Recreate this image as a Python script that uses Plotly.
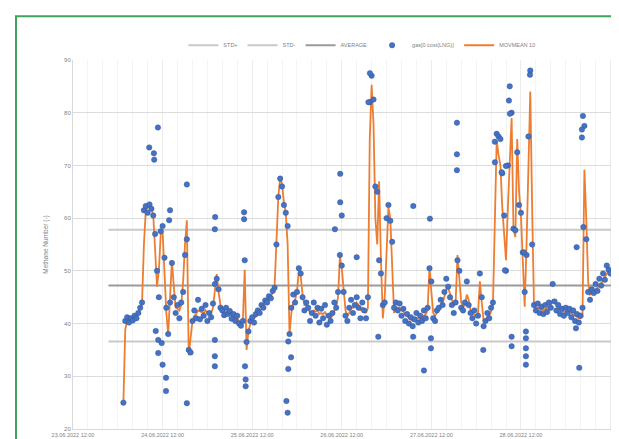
import pandas as pd
import plotly.graph_objects as go

# ---------------- data ----------------
start_time = "2022-06-24 01:30"   # first sample, 30 min spacing
gas_values = [
    25.0,
    40.5, 41.2, 40.2, 41.0, 40.6, 41.5, 41.0,
    42.0, 43.0, 44.0,
    61.5, 62.3, 61.0, 62.6, 61.8, 60.5,
    57.0, 50.0, 45.0, 57.5, 58.5, 52.5, 43.0, 38.0, 44.0, 51.5,
    45.0, 42.0, 43.5, 41.0, 44.0, 46.0, 53.0, 56.0, 35.0, 34.5,
    40.5, 42.5, 41.0, 44.5, 40.8, 42.8, 41.5, 43.5, 40.5, 42.0, 41.2, 43.8,
    47.5, 48.5, 46.5, 43.0,
    42.5, 41.6, 43.0, 41.8, 42.4, 40.9, 41.8, 40.5, 41.5, 40.0, 39.6, 40.5,
    52.0, 36.5, 38.5,
    40.5, 41.2, 40.2, 41.8, 42.5, 42.0, 43.5, 43.0, 44.4, 44.0, 45.2, 44.8, 46.2, 46.8,
    55.0, 64.0, 67.5, 66.0, 62.5, 61.0, 58.5,
    38.0, 43.0, 45.5, 44.0, 46.0, 50.5, 49.5, 45.0, 42.5, 44.0,
    43.0, 40.5, 42.0, 44.0, 41.5, 43.0, 40.2, 42.8, 41.0, 43.5, 39.8, 41.5, 40.5, 42.0,
    44.0, 43.0, 46.0, 53.0, 51.0, 46.0, 41.5, 40.5, 43.0, 44.5, 42.0, 43.5, 45.0,
    43.0, 41.0, 44.0, 42.5, 41.0, 45.0,
    82.0, 87.0, 82.5,
    66.0, 65.0, 52.0, 49.5, 43.5,
    44.0, 60.0, 62.5, 59.5, 55.5, 43.0,
    44.0, 42.5, 43.8, 41.5, 42.8, 40.5, 41.8, 40.0, 41.2, 39.5, 40.8, 42.0, 40.2, 41.5,
    40.5, 42.5, 41.0, 43.0,
    50.5, 48.0,
    41.0, 40.5, 42.5, 43.0, 44.5, 43.5, 46.0, 48.5, 47.0, 45.0, 43.5, 42.0, 44.0, 52.0, 50.0,
    43.0, 42.5, 44.0, 48.0, 43.5,
    42.0, 41.0, 42.5, 40.0, 41.5, 49.5, 45.0, 39.5, 40.5, 42.0, 41.0, 43.0, 44.0,
    74.5, 76.0, 75.5, 75.0, 68.5, 60.5, 50.0, 70.0, 85.0, 80.0, 58.0, 57.7, 72.5, 62.5,
    61.0, 53.5, 46.0, 53.0, 75.5, 88.0, 55.0,
    43.5, 42.5, 43.8, 42.0, 43.2, 41.8, 43.5, 42.2, 44.0, 43.0, 47.5, 44.2, 42.5, 43.5,
    41.8, 42.8, 41.5, 43.0, 42.0, 42.8, 41.2, 42.5, 40.5, 41.8, 40.2, 41.5, 43.0,
    77.5, 56.0,
    46.0, 44.5, 46.5, 45.8, 47.5, 46.2, 48.5, 47.2, 49.5, 48.3, 51.0, 50.2, 49.5,
]

movmean_values = [
    25.0,
    38.9, 40.5, 40.8, 40.9, 41.0, 41.2, 41.3,
    42.0, 43.0, 44.0,
    55.0, 61.5, 62.0, 62.2, 61.8, 60.5,
    54.0, 47.0, 50.0, 57.0, 57.5, 50.0, 42.0, 38.0, 45.0, 52.0,
    47.0, 43.0, 42.8, 42.5, 43.5, 48.0, 55.0, 59.6, 34.0, 37.0,
    40.5, 41.5, 41.8, 42.5, 42.3, 42.2, 42.0, 42.5, 42.0, 42.0, 42.0, 43.0,
    47.0, 49.4, 46.0, 43.5,
    42.5, 42.0, 42.3, 42.2, 42.0, 41.5, 41.5, 41.0, 41.0, 40.5, 40.0, 40.5,
    50.2, 35.0, 38.5,
    40.0, 40.6, 41.0, 41.3, 42.0, 42.4, 42.8, 43.3, 43.8, 44.3, 44.8, 45.2, 45.8, 47.0,
    56.0, 64.0, 67.7, 66.5, 63.0, 61.0, 55.0,
    38.0, 42.0, 44.0, 44.5, 46.0, 50.0, 49.0, 45.5, 43.5, 43.5,
    43.0, 42.0, 42.0, 42.5, 42.3, 42.5, 41.8, 42.0, 41.8, 42.2, 41.5, 41.2, 41.0, 41.5,
    42.5, 43.2, 45.0, 52.6, 50.5, 46.0, 42.5, 41.5, 42.0, 43.0, 43.0, 43.3, 44.0,
    43.5, 42.5, 43.0, 42.8, 42.0, 43.0,
    75.0, 85.3, 78.0,
    60.0, 55.0, 67.0, 52.0, 41.0,
    45.0, 55.0, 62.0, 60.0, 52.0, 42.0,
    43.0, 43.0, 43.0, 42.5, 42.3, 41.8, 41.5, 41.0, 40.8, 40.5, 40.5, 41.0, 41.0, 41.0,
    41.0, 41.5, 41.8, 42.5,
    50.8, 46.0,
    42.0, 41.5, 42.0, 42.5, 43.2, 43.8, 45.0, 46.5, 46.8, 45.5, 44.5, 43.5, 44.0, 53.0, 48.0,
    44.0, 43.2, 43.5, 45.5, 44.5,
    42.5, 41.8, 41.8, 41.2, 42.0, 48.0, 44.0, 40.5, 40.5, 41.3, 41.5, 42.3, 43.5,
    60.0, 74.7, 72.0, 70.0, 62.0, 57.0, 52.0, 62.0, 72.0, 79.0, 58.0, 56.4, 75.0, 65.0,
    60.5, 52.0, 43.2, 55.0, 72.0, 84.0, 62.0,
    43.2, 43.0, 43.0, 42.8, 42.7, 42.5, 42.8, 42.8, 43.2, 43.5, 44.5, 44.5, 43.5, 43.0,
    42.5, 42.5, 42.2, 42.3, 42.3, 42.3, 42.0, 41.8, 41.5, 41.3, 41.0, 41.0, 42.0,
    69.2, 60.0,
    48.0, 45.5, 45.8, 46.0, 46.5, 46.8, 47.3, 47.6, 48.3, 48.8, 49.5, 50.0, 50.0,
]

# scattered single readings (outliers)
outlier_times = [
    "2022-06-24 08:25", "2022-06-24 09:40", "2022-06-24 09:45", "2022-06-24 10:45",
    "2022-06-24 10:10", "2022-06-24 10:50", "2022-06-24 11:45", "2022-06-24 10:50",
    "2022-06-24 12:00", "2022-06-24 12:55", "2022-06-24 12:55", "2022-06-24 13:45",
    "2022-06-24 14:00", "2022-06-24 18:30", "2022-06-24 18:30",
    "2022-06-25 02:00", "2022-06-25 02:00", "2022-06-25 02:00", "2022-06-25 02:00",
    "2022-06-25 02:05",
    "2022-06-25 09:50", "2022-06-25 09:50", "2022-06-25 10:05", "2022-06-25 10:15",
    "2022-06-25 10:15",
    "2022-06-25 21:40", "2022-06-25 22:25", "2022-06-25 21:40", "2022-06-25 21:10",
    "2022-06-25 21:30",
    "2022-06-26 10:10", "2022-06-26 11:35", "2022-06-26 11:35", "2022-06-26 12:00",
    "2022-06-26 16:00",
    "2022-06-26 19:33", "2022-06-26 19:09", "2022-06-26 21:47",
    "2022-06-27 07:09", "2022-06-27 07:07", "2022-06-27 10:01", "2022-06-27 11:37",
    "2022-06-27 11:53", "2022-06-27 11:53",
    "2022-06-27 18:51", "2022-06-27 18:51", "2022-06-27 18:51",
    "2022-06-28 01:54", "2022-06-28 05:02", "2022-06-28 06:49", "2022-06-28 07:43",
    "2022-06-28 07:59", "2022-06-28 08:47", "2022-06-28 09:03", "2022-06-28 09:30",
    "2022-06-28 09:30", "2022-06-28 12:48",
    "2022-06-28 13:20", "2022-06-28 13:20", "2022-06-28 13:20", "2022-06-28 13:20",
    "2022-06-28 13:20", "2022-06-28 14:25",
    "2022-06-29 02:44", "2022-06-29 02:55", "2022-06-29 03:37",
    "2022-06-29 04:36", "2022-06-29 04:20", "2022-06-29 04:20", "2022-06-29 04:44",
]
outlier_values = [
    73.4, 72.3, 71.1, 77.2,
    38.6, 36.9, 36.3, 34.4,
    32.2, 29.7, 27.2, 59.6,
    61.5, 66.4, 24.9,
    36.9, 33.8, 31.9, 57.9,
    60.2,
    61.1, 59.8, 31.9, 29.4,
    28.1,
    36.6, 33.6, 31.4, 25.3,
    23.1,
    57.9, 68.4, 63.0, 60.5,
    52.6,
    87.5, 82.0, 37.5,
    62.3, 37.5, 31.1, 59.9,
    37.2, 35.3,
    78.1, 72.1, 69.1,
    35.0, 70.6, 68.7, 50.1,
    69.9, 82.3, 79.8, 37.5,
    35.7, 53.5,
    38.5, 37.2, 35.3, 33.8,
    32.2, 87.2,
    39.1, 54.5, 31.6,
    79.4, 76.8, 75.3, 58.3,
]

# horizontal reference levels
average_level = 47.2
std_plus_level = 57.8
std_minus_level = 36.6
ref_line_span = ["2022-06-23 21:30", "2022-06-29 14:00"]

y_ticks = [20, 30, 40, 50, 60, 70, 80, 90]
x_tick_start = "2022-06-23 12:00"
x_range = ["2022-06-23 12:00", "2022-06-29 14:00"]

# ---------------- figure ----------------
sample_times = pd.date_range(start_time, periods=len(gas_values), freq="30min")
ma_times = pd.date_range(start_time, periods=len(movmean_values), freq="30min")

all_times = list(sample_times) + list(pd.to_datetime(outlier_times))
all_values = gas_values + outlier_values

font_family = "Liberation Sans, Arial, sans-serif"
grey_text = "#7f7f7f"

fig = go.Figure()

fig.add_trace(go.Scatter(
    x=ref_line_span, y=[std_plus_level] * 2, mode="lines", name="STD+",
    line=dict(color="#c9c9c9", width=2), legendrank=1))
fig.add_trace(go.Scatter(
    x=ref_line_span, y=[std_minus_level] * 2, mode="lines", name="STD-",
    line=dict(color="#c9c9c9", width=2), legendrank=2))
fig.add_trace(go.Scatter(
    x=ref_line_span, y=[average_level] * 2, mode="lines", name="AVERAGE",
    line=dict(color="#9a9a9a", width=2), legendrank=3))
fig.add_trace(go.Scatter(
    x=ma_times, y=movmean_values, mode="lines", name="MOVMEAN 10",
    line=dict(color="#ED7D31", width=1.8), legendrank=5))
fig.add_trace(go.Scatter(
    x=all_times, y=all_values, mode="markers", name="gas[0 cost(LNG)]",
    marker=dict(color="#4472C4", size=5.5, line=dict(width=0.4, color="#2f4f8f")),
    legendrank=4))

fig.update_layout(
    width=619, height=439,
    margin=dict(l=65, r=9, t=52, b=16),
    paper_bgcolor="white", plot_bgcolor="white",
    font=dict(family=font_family, size=6, color=grey_text),
    showlegend=True,
    legend=dict(orientation="h", x=0.53, xanchor="center", y=1.04, yanchor="middle",
                font=dict(size=5.5, color=grey_text), bgcolor="rgba(0,0,0,0)",
                itemwidth=30, tracegroupgap=0),
    xaxis=dict(
        type="date", range=x_range, tick0=x_tick_start, dtick=86400000,
        tickformat="%d.%m.%Y %H:%M", tickfont=dict(size=5.5, color=grey_text),
        showgrid=True, gridcolor="#ececec", gridwidth=1,
        minor=dict(dtick=4 * 3600000, showgrid=True, gridcolor="#f4f4f4"),
        showline=True, linecolor="#d9d9d9", ticks="", zeroline=False,
    ),
    yaxis=dict(
        range=[y_ticks[0], y_ticks[-1]], tickvals=y_ticks,
        tickfont=dict(size=6, color=grey_text),
        showgrid=True, gridcolor="#dcdcdc", gridwidth=1,
        showline=True, linecolor="#d9d9d9", ticks="", zeroline=False,
        title=dict(text="Methane Number (-)", font=dict(size=6.5, color=grey_text), standoff=14),
    ),
    shapes=[dict(type="rect", xref="paper", yref="paper",
                 x0=-0.1046, x1=1.0055, y0=-0.08, y1=1.1186,
                 line=dict(color="#3fa35f", width=2), fillcolor="rgba(0,0,0,0)", layer="above")],
)

fig.write_html("out.html")
